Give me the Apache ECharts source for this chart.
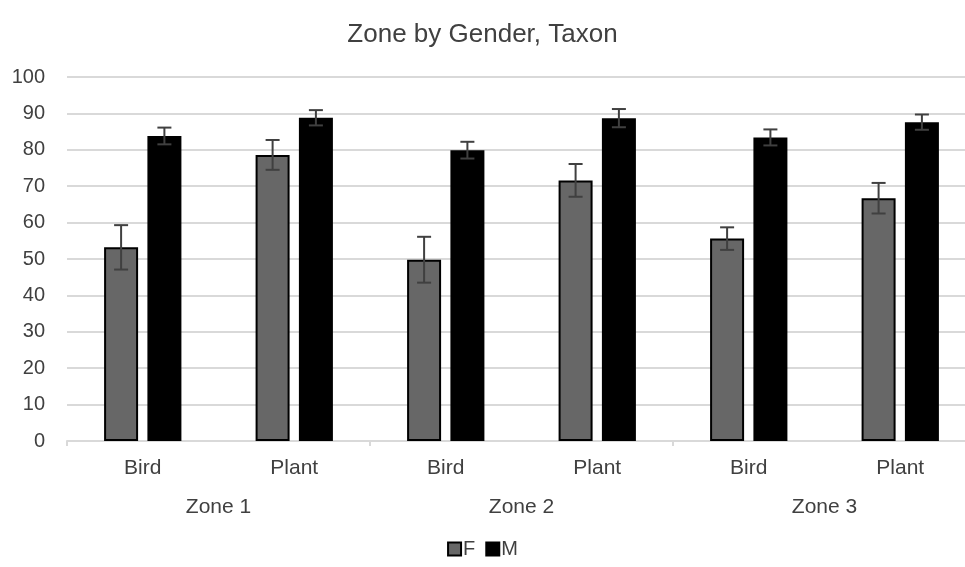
<!DOCTYPE html>
<html>
<head>
<meta charset="utf-8">
<script src="https://cdn.jsdelivr.net/npm/echarts@6/dist/echarts.min.js"></script>
<style>
html,body{margin:0;padding:0;background:#fff;}
#chart{width:965px;height:567px;}
</style>
</head>
<body>
<div id="chart"></div>
<script>
var taxa = ['Bird', 'Plant', 'Bird', 'Plant', 'Bird', 'Plant'];
var zones = ['Zone 1', 'Zone 2', 'Zone 3'];
var valuesF = [53.2, 78.6, 49.8, 71.6, 55.6, 66.7];
var errorsF = [6.1, 4.1, 6.3, 4.5, 3.1, 4.2];
var valuesM = [83.8, 88.8, 79.9, 88.7, 83.4, 87.6];
var errorsM = [2.3, 2.1, 2.3, 2.5, 2.2, 2.1];
var yTicks = [0, 10, 20, 30, 40, 50, 60, 70, 80, 90, 100];

var chart = echarts.init(document.getElementById('chart'));
var FONT = '"Liberation Sans", Arial, sans-serif';
var BAR_W = 34, GAP = 9.3;
var OFFSET = (BAR_W + GAP) / 2;

function errData(vals, errs) {
  return vals.map(function (v, i) { return [i, v, errs[i]]; });
}
function makeRender(sign) {
  return function (params, api) {
    var i = api.value(0), v = api.value(1), e = api.value(2);
    var top = api.coord([i, v + e]);
    var bot = api.coord([i, v - e]);
    var x = top[0] + sign * OFFSET;
    var cap = 7;
    var style = { stroke: '#404040', lineWidth: 2 };
    return {
      type: 'group',
      children: [
        { type: 'line', shape: { x1: x, y1: top[1], x2: x, y2: bot[1] }, style: style },
        { type: 'line', shape: { x1: x - cap, y1: top[1], x2: x + cap, y2: top[1] }, style: style },
        { type: 'line', shape: { x1: x - cap, y1: bot[1], x2: x + cap, y2: bot[1] }, style: style }
      ]
    };
  };
}

chart.setOption({
  animation: false,
  backgroundColor: '#ffffff',
  title: {
    text: 'Zone by Gender, Taxon',
    left: 'center',
    top: 17,
    textStyle: { fontFamily: FONT, fontSize: 26, fontWeight: 'normal', color: '#404040' }
  },
  legend: {
    data: ['F', 'M'],
    bottom: 3,
    left: 'center',
    icon: 'rect',
    itemWidth: 13,
    itemHeight: 13,
    itemGap: 10,
    textStyle: { fontFamily: FONT, fontSize: 20, color: '#404040', padding: [0, 0, 0, -3] }
  },
  grid: { left: 67, top: 77, width: 909, height: 364, outerBoundsMode: 'none', containLabel: false },
  xAxis: [
    {
      type: 'category',
      data: taxa,
      axisLine: { show: true, lineStyle: { color: '#d9d9d9', width: 2 } },
      axisTick: { show: false },
      axisLabel: { margin: 17, fontFamily: FONT, fontSize: 21, color: '#404040' }
    },
    {
      type: 'category',
      data: zones,
      position: 'bottom',
      axisLine: { show: false },
      axisTick: { show: true, length: 5, lineStyle: { color: '#d9d9d9', width: 2 } },
      axisLabel: { margin: 56, fontFamily: FONT, fontSize: 21, color: '#404040' }
    }
  ],
  yAxis: {
    type: 'value',
    min: yTicks[0],
    max: yTicks[yTicks.length - 1],
    interval: 10,
    axisLine: { show: false },
    axisTick: { show: false },
    splitLine: { lineStyle: { color: '#d9d9d9', width: 2 } },
    axisLabel: { margin: 22, fontFamily: FONT, fontSize: 20, color: '#404040' }
  },
  series: [
    {
      name: 'F',
      type: 'bar',
      data: valuesF,
      barWidth: BAR_W,
      barGap: (GAP / BAR_W * 100).toFixed(1) + '%',
      itemStyle: { color: '#676767', borderColor: '#000000', borderWidth: 2 }
    },
    {
      name: 'M',
      type: 'bar',
      data: valuesM,
      barWidth: BAR_W,
      itemStyle: { color: '#000000', borderColor: '#000000', borderWidth: 2 }
    },
    {
      name: 'errF',
      type: 'custom',
      data: errData(valuesF, errorsF),
      renderItem: makeRender(-1),
      encode: { x: 0, y: [1] },
      z: 10,
      silent: true
    },
    {
      name: 'errM',
      type: 'custom',
      data: errData(valuesM, errorsM),
      renderItem: makeRender(1),
      encode: { x: 0, y: [1] },
      z: 10,
      silent: true
    }
  ]
});
</script>
</body>
</html>
